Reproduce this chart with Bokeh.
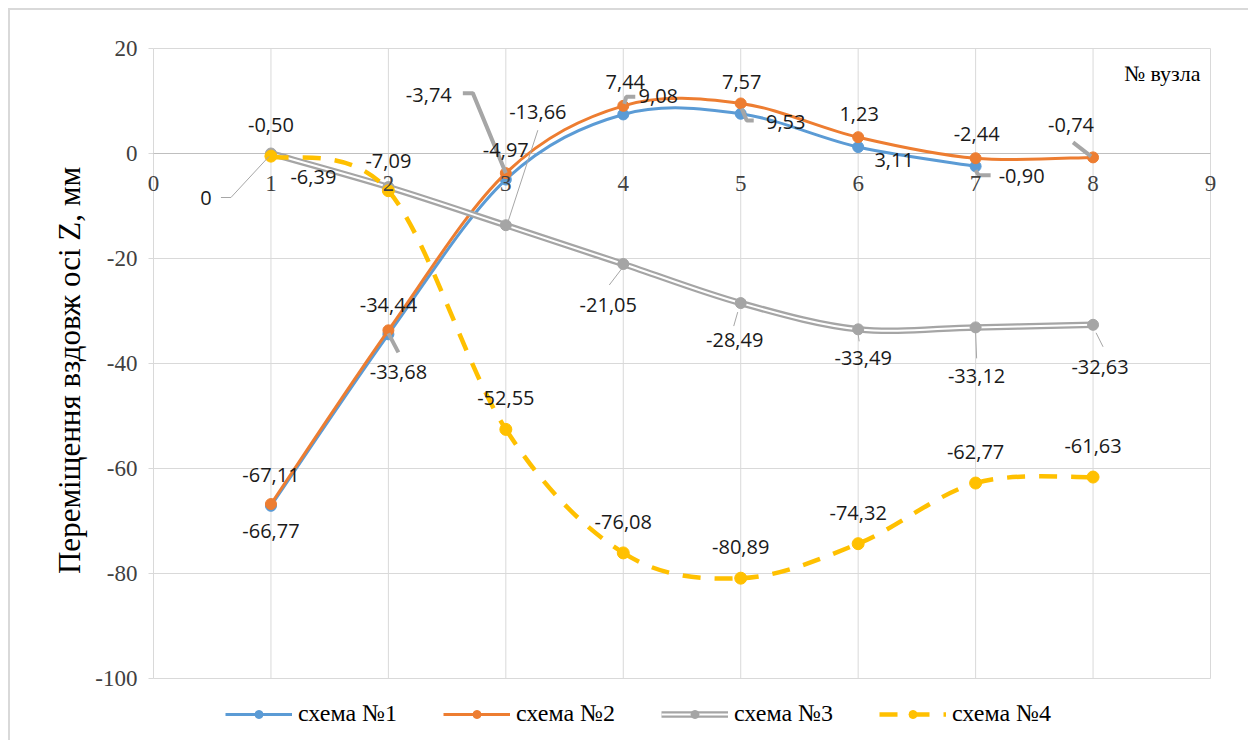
import numpy as np
from bokeh.plotting import figure
from bokeh.models import (ColumnDataSource, FixedTicker, Legend, LegendItem,
                          Label, Range1d)
from bokeh.core.properties import value
from bokeh.embed import file_html
from bokeh.resources import INLINE

# ---------------- data ----------------
nodes_1 = [1, 2, 3, 4, 5, 6, 7]
scheme_1 = [-67.11, -34.44, -4.97, 7.44, 7.57, 1.23, -2.44]
nodes = [1, 2, 3, 4, 5, 6, 7, 8]
scheme_2 = [-66.77, -33.68, -3.74, 9.08, 9.53, 3.11, -0.90, -0.74]
scheme_3 = [0.0, -6.39, -13.66, -21.05, -28.49, -33.49, -33.12, -32.63]
scheme_4 = [-0.50, -7.09, -52.55, -76.08, -80.89, -74.32, -62.77, -61.63]
series_names = ["схема №1", "схема №2", "схема №3", "схема №4"]
x_ticks = [0, 1, 2, 3, 4, 5, 6, 7, 8, 9]
x_tick_labels = ["0", "1", "2", "3", "4", "5", "6", "7", "8", "9"]
y_ticks = [-100, -80, -60, -40, -20, 0, 20]
y_tick_labels = ["-100", "-80", "-60", "-40", "-20", "0", "20"]
y_title = "Переміщення вздовж осі Z, мм"
x_title = "№ вузла"

# ---------------- styles ----------------
C_BLUE, C_ORANGE, C_GRAY, C_YELLOW = "#5B9BD5", "#ED7D31", "#A5A5A5", "#FFC000"
X_MIN, X_MAX, Y_MIN, Y_MAX = 0, 9, -100, 20
AREA_W, AREA_H = 1057, 630            # plot area in pixels
PAD_L, PAD_R, PAD_T, PAD_B = 10, 38, 48, 62
SX = AREA_W / (X_MAX - X_MIN)
SY = AREA_H / (Y_MAX - Y_MIN)
LBL_FONT = value("Open Sans")
SERIF = "Liberation Serif"
GRID = "#d9d9d9"

# label offsets in pixels (dx right, dy down)
off_1 = [(0, -31), (0, -29), (0, -30), (2, -32), (1, -32), (1, -33), (1, -32)]
off_2 = [(0, 27), (10, 42), (-77, -78), (35, -10), (45, 19), (36, 23), (46, 18), (-22, -32)]
off_3 = [(-65, 44), (-75, -10), (32, -113), (-15, 41), (-6, 37), (5, 29), (1, 49), (7, 42)]
off_4 = [(0, -31), (0, -30), (0, -31), (0, -31), (0, -31), (0, -31), (0, -31), (0, -31)]

# leader polylines (pixel offsets from the point): (series, index, pts, width)
leaders = [
    (3, 0, [(-50, 44), (-40, 44), (-2, 3)], 1),
    (3, 2, [(32, -95), (2, -3)], 1),
    (3, 3, [(-14, 21), (-1, 4)], 1),
    (3, 4, [(-3, 9), (-7, 23)], 1),
    (3, 5, [(0, 5), (1, 12)], 1),
    (3, 6, [(0, 5), (1, 31)], 1),
    (3, 7, [(3, 8), (10, 22)], 1),
    (2, 1, [(0, 3), (10, 22)], 4),
    (2, 2, [(-43, -80), (-33, -80), (0, 0)], 4),
    (2, 3, [(12, -9), (3, -9), (1, -2)], 4),
    (2, 4, [(1, 5), (6, 17), (13, 17)], 4),
    (2, 6, [(0, 12), (3, 17), (15, 17)], 4),
    (2, 7, [(-20, -15), (-2, -1)], 4),
]


def fmt(v):
    return "0" if v == 0 else f"{v:.2f}".replace(".", ",")


def bezier_source(xs, ys, t=1 / 6):
    xs = np.asarray(xs, float)
    ys = np.asarray(ys, float)
    n = len(xs)
    xp = np.concatenate([[xs[0]], xs, [xs[-1]]])
    yp = np.concatenate([[ys[0]], ys, [ys[-1]]])
    return ColumnDataSource(dict(
        x0=xs[:-1], y0=ys[:-1], x1=xs[1:], y1=ys[1:],
        cx0=xs[:-1] + (xp[2:n + 1] - xp[0:n - 1]) * t,
        cy0=ys[:-1] + (yp[2:n + 1] - yp[0:n - 1]) * t,
        cx1=xs[1:] - (xp[3:n + 2] - xp[1:n]) * t,
        cy1=ys[1:] - (yp[3:n + 2] - yp[1:n]) * t,
    ))


p = figure(frame_width=AREA_W + PAD_L + PAD_R, frame_height=AREA_H + PAD_T + PAD_B,
           min_border_left=143, min_border_right=0, min_border_top=0, min_border_bottom=0,
           x_range=Range1d(X_MIN - PAD_L / SX, X_MAX + PAD_R / SX),
           y_range=Range1d(Y_MIN - PAD_B / SY, Y_MAX + PAD_T / SY),
           output_backend="svg", toolbar_location=None)
# chart-area border (top and left edges visible in the reference)
p.styles = {
    "background": ("linear-gradient(#d9d9d9, #d9d9d9) 8px 8px / calc(100% - 8px) 2px no-repeat, "
                   "linear-gradient(#d9d9d9, #d9d9d9) 8px 8px / 2px calc(100% - 8px) no-repeat, white"),
}
p.background_fill_color = None
p.border_fill_color = None
p.outline_line_color = None
p.xaxis.visible = False
p.xgrid.visible = False
p.ygrid.visible = False

# y axis (labels only; lines drawn as grid segments)
p.yaxis.ticker = FixedTicker(ticks=y_ticks)
p.yaxis.major_label_overrides = {t: s for t, s in zip(y_ticks, y_tick_labels)}
p.yaxis.major_tick_line_color = None
p.yaxis.minor_tick_line_color = None
p.yaxis.axis_line_color = None
p.yaxis.major_label_text_font = SERIF
p.yaxis.major_label_text_font_size = "23px"
p.yaxis.major_label_text_color = "#404040"
p.yaxis.major_label_standoff = 0
p.yaxis.axis_label = y_title
p.yaxis.axis_label_text_font = SERIF
p.yaxis.axis_label_text_font_size = "31px"
p.yaxis.axis_label_text_font_style = "normal"
p.yaxis.axis_label_text_color = "#000000"
p.yaxis.axis_label_standoff = 5

# gridlines of the plot area, from the tick arrays
p.segment(x0=x_ticks, x1=x_ticks, y0=[Y_MIN] * len(x_ticks), y1=[Y_MAX] * len(x_ticks),
          line_color=GRID, line_width=1)
p.segment(x0=[X_MIN] * len(y_ticks), x1=[X_MAX] * len(y_ticks), y0=y_ticks, y1=y_ticks,
          line_color=GRID, line_width=1)
p.segment(x0=[X_MIN - 5 / SX] * len(y_ticks), x1=[X_MIN] * len(y_ticks), y0=y_ticks, y1=y_ticks,
          line_color=GRID, line_width=1)
p.segment(x0=[X_MIN], x1=[X_MAX], y0=[0], y1=[0], line_color="#bfbfbf", line_width=1)

# ---------------- series ----------------
bz = dict(x0="x0", y0="y0", x1="x1", y1="y1", cx0="cx0", cy0="cy0", cx1="cx1", cy1="cy1")
b1 = p.bezier(source=bezier_source(nodes_1, scheme_1), line_color=C_BLUE, line_width=3, **bz)
m1 = p.scatter(nodes_1, scheme_1, size=11, color=C_BLUE)
b2 = p.bezier(source=bezier_source(nodes, scheme_2), line_color=C_ORANGE, line_width=3, **bz)
m2 = p.scatter(nodes, scheme_2, size=11, color=C_ORANGE)
src3 = bezier_source(nodes, scheme_3)
b3a = p.bezier(source=src3, line_color=C_GRAY, line_width=6.5, **bz)
b3b = p.bezier(source=src3, line_color="white", line_width=2, **bz)
m3 = p.scatter(nodes, scheme_3, size=11, color=C_GRAY)
b4 = p.bezier(source=bezier_source(nodes, scheme_4), line_color=C_YELLOW, line_width=4.5,
              line_dash="18 14", **bz)
m4 = p.scatter(nodes, scheme_4, size=12, color=C_YELLOW)

# ---------------- leaders ----------------
series_xy = {1: (nodes_1, scheme_1), 2: (nodes, scheme_2), 3: (nodes, scheme_3), 4: (nodes, scheme_4)}
for s, i, pts, w in leaders:
    xv, yv = series_xy[s][0][i], series_xy[s][1][i]
    lx = [xv + dx / SX for dx, dy in pts]
    ly = [yv - dy / SY for dx, dy in pts]
    p.line(lx, ly, line_color="#A6A6A6", line_width=w)

# ---------------- data labels ----------------
lx, ly, lt, ldx, ldy = [], [], [], [], []
for xs, ys, offs in [(nodes_1, scheme_1, off_1), (nodes, scheme_2, off_2),
                     (nodes, scheme_3, off_3), (nodes, scheme_4, off_4)]:
    for xv, yv, (dx, dy) in zip(xs, ys, offs):
        lx.append(xv); ly.append(yv); lt.append(fmt(yv)); ldx.append(dx); ldy.append(dy)
p.text(x="x", y="y", text="t", x_offset="dx", y_offset="dy",
       source=ColumnDataSource(dict(x=lx, y=ly, t=lt, dx=ldx, dy=ldy)),
       text_font=LBL_FONT, text_font_size="20px", text_color="#1a1a1a",
       text_align="center", text_baseline="middle")

# ---------------- x tick labels (axis crosses at 0) ----------------
p.text(x=x_ticks, y=[0] * len(x_ticks), text=x_tick_labels, y_offset=30,
       text_font=value(SERIF), text_font_size="23px", text_color="#404040",
       text_align="center", text_baseline="middle")

p.add_layout(Label(x=X_MAX, y=Y_MAX, x_offset=-10, y_offset=-25, text=x_title,
                   text_font=SERIF, text_font_size="22px", text_color="#000000",
                   text_align="right", text_baseline="middle"))

# ---------------- legend ----------------
legend = Legend(items=[
    LegendItem(label=series_names[0], renderers=[b1, m1]),
    LegendItem(label=series_names[1], renderers=[b2, m2]),
    LegendItem(label=series_names[2], renderers=[b3a, b3b, m3]),
    LegendItem(label=series_names[3], renderers=[b4, m4]),
], orientation="horizontal", location=(82, 13),
    glyph_width=67, glyph_height=20, label_standoff=6, label_width=105, label_height=24,
    spacing=40, padding=0, margin=0, border_line_color=None, background_fill_alpha=0,
    label_text_font=SERIF, label_text_font_size="24px", label_text_color="#000000")
p.add_layout(legend)

open("out.html", "w").write(file_html(p, INLINE))
